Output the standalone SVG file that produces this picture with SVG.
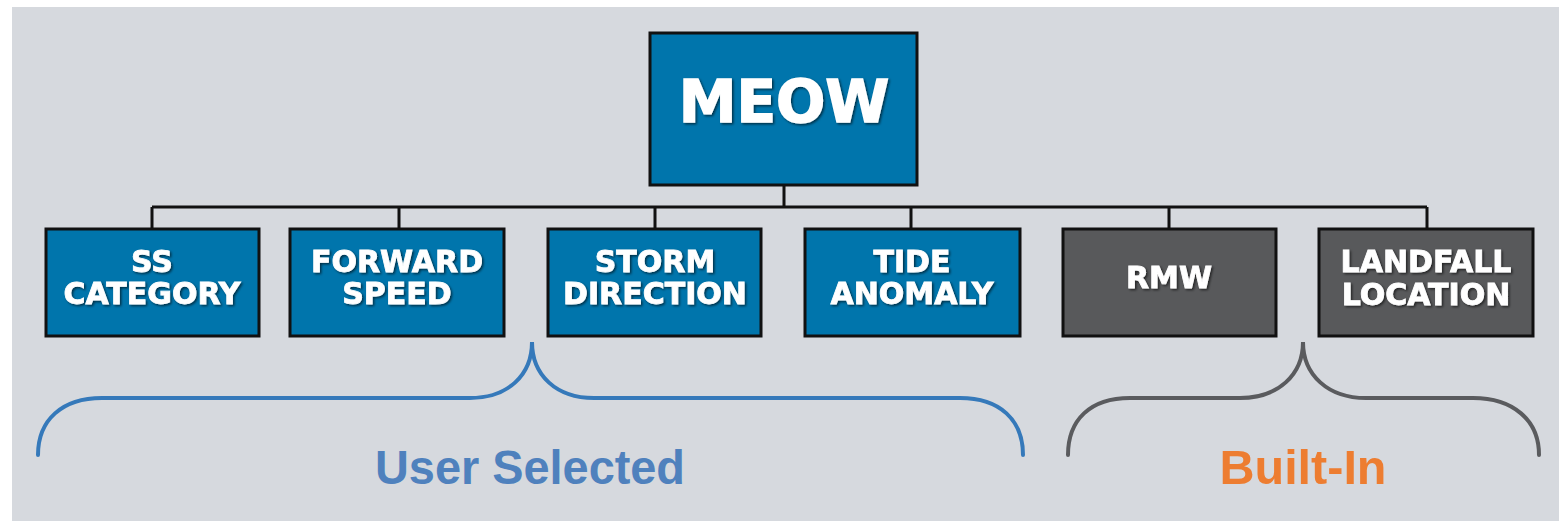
<svg xmlns="http://www.w3.org/2000/svg" width="1559" height="521" viewBox="0 0 1559 521">
<defs>
<style>
.bg{fill:#D6D9DE}
.blue{fill:#0075AC;stroke:#111;stroke-width:3}
.gray{fill:#58595B;stroke:#111;stroke-width:3}
.lbl{font-family:"DejaVu Sans",sans-serif;font-weight:bold;fill:#fff;stroke:#fff;stroke-width:0.8;text-anchor:middle;filter:url(#sh)}
.conn{stroke:#111;stroke-width:3;fill:none}
.brace{fill:none;stroke-width:4;stroke-linecap:round}
.cap{font-family:"Liberation Sans",Arial,sans-serif;font-weight:bold;text-anchor:middle;font-size:48px}
</style>
<filter id="sh" x="-10%" y="-20%" width="120%" height="140%">
<feDropShadow dx="1.5" dy="1.5" stdDeviation="1" flood-color="#000" flood-opacity="0.6"/>
</filter>
</defs>
<rect class="bg" x="12" y="7" width="1547" height="514"/>
<g id="connectors">
<path class="conn" d="M784,186 V207 M152,207 H1427 M152,207 V228 M399,207 V228 M655,207 V228 M911,207 V228 M1169,207 V228 M1427,207 V228"/>
</g>
<g id="meow">
<rect class="blue" x="650" y="33" width="267" height="152"/>
<text class="lbl" x="784" y="122" font-size="58" style="stroke-width:1.5">MEOW</text>
</g>
<g id="ss-category">
<rect class="blue" x="46" y="229" width="213" height="107"/>
<text class="lbl" x="152" y="272" font-size="30">SS</text>
<text class="lbl" x="152" y="304" font-size="30">CATEGORY</text>
</g>
<g id="forward-speed">
<rect class="blue" x="290" y="229" width="214" height="107"/>
<text class="lbl" x="397" y="272" font-size="30">FORWARD</text>
<text class="lbl" x="397" y="304" font-size="30">SPEED</text>
</g>
<g id="storm-direction">
<rect class="blue" x="548" y="229" width="213" height="107"/>
<text class="lbl" x="655" y="272" font-size="30">STORM</text>
<text class="lbl" x="655" y="304" font-size="30">DIRECTION</text>
</g>
<g id="tide-anomaly">
<rect class="blue" x="805" y="229" width="215" height="107"/>
<text class="lbl" x="912" y="272" font-size="30">TIDE</text>
<text class="lbl" x="912" y="304" font-size="30">ANOMALY</text>
</g>
<g id="rmw">
<rect class="gray" x="1063" y="229" width="213" height="107"/>
<text class="lbl" x="1169" y="288" font-size="30">RMW</text>
</g>
<g id="landfall-location">
<rect class="gray" x="1319" y="229" width="214" height="107"/>
<text class="lbl" x="1426" y="272" font-size="30">LANDFALL</text>
<text class="lbl" x="1426" y="305" font-size="30">LOCATION</text>
</g>
<g id="user-selected">
<path class="brace" stroke="#3579BA" d="M38,455 C38,420 62,398 102,398 L470,398 C508,398 532,375 532,342 C532,375 556,398 594,398 L960,398 C1000,398 1023,420 1023,455"/>
<text class="cap" x="530" y="484" fill="#4F81BD" textLength="310" lengthAdjust="spacingAndGlyphs">User Selected</text>
</g>
<g id="built-in">
<path class="brace" stroke="#5A5B5E" d="M1068,455 C1068,420 1090,398 1130,398 L1240,398 C1278,398 1303,375 1303,342 C1303,375 1328,398 1366,398 L1473,398 C1513,398 1539,420 1539,455"/>
<text class="cap" x="1303" y="484" fill="#ED7D31" textLength="167" lengthAdjust="spacingAndGlyphs">Built-In</text>
</g>
</svg>
